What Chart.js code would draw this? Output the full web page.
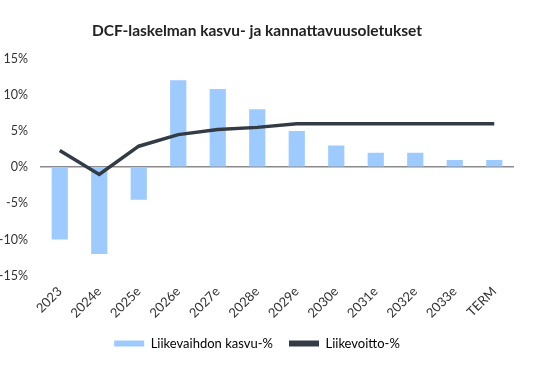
<!DOCTYPE html>
<html><head><meta charset="utf-8">
<script src="https://cdn.jsdelivr.net/npm/chart.js@4"></script>
<style>html,body{margin:0;padding:0;background:#fff}#wrap{width:546px;height:373px}</style>
</head><body><div id="wrap"><canvas id="c"></canvas></div>
<script>
const categories = ["2023","2024e","2025e","2026e","2027e","2028e","2029e","2030e","2031e","2032e","2033e","TERM"];
const revenueGrowth = [-10, -12, -4.5, 12, 10.8, 8, 5, 3, 2, 2, 1, 1];
const ebitMargin = [2.3, -1.0, 2.9, 4.5, 5.2, 5.5, 6, 6, 6, 6, 6, 6];
const yTicks = [-15, -10, -5, 0, 5, 10, 15];
const FONT = "Lato, 'Open Sans', sans-serif";
const BAR = "#9dcaff", LINE = "#333b45";
new Chart(document.getElementById('c'), {
  data: {
    labels: categories,
    datasets: [
      {type:'line', label:'Liikevoitto-%', data: ebitMargin, borderColor: LINE, backgroundColor: LINE, borderWidth: 3.5, pointRadius: 0, tension: 0, order: 0},
      {type:'bar', label:'Liikevaihdon kasvu-%', data: revenueGrowth, backgroundColor: BAR, barPercentage: 0.41, categoryPercentage: 1, order: 1}
    ]
  },
  options: {
    responsive: true, maintainAspectRatio: false, animation: false,
    layout: {padding: {left: 0, right: 32, top: 12, bottom: 13}},
    plugins: {
      title: {display: true, text: 'DCF-laskelman kasvu- ja kannattavuusoletukset', color: '#222', font: {family: FONT, size: 15.5, weight: 'bold'}, padding: {top: 10, bottom: 18}},
      legend: {position: 'bottom', reverse: true,
        labels: {color: '#333', font: {family: FONT, size: 13}, boxWidth: 30, boxHeight: 6, padding: 16,
          generateLabels: (chart) => chart.data.datasets.map((d, i) => ({text: d.label, fillStyle: d.type==='line'? LINE : BAR, strokeStyle: 'transparent', lineWidth: 0, datasetIndex: i}))}},
      tooltip: {enabled: false}
    },
    scales: {
      x: {grid: {display: false}, border: {display: false},
        ticks: {color: '#333', font: {family: FONT, size: 13}, maxRotation: 45, minRotation: 45, padding: 0}},
      y: {min: -15, max: 15, border: {display: false},
        afterBuildTicks: (a) => { a.ticks = yTicks.map(v => ({value: v})); },
        afterFit: (s) => { s.width = 40; },
        grid: {drawTicks: false, color: (ctx) => ctx.tick && ctx.tick.value === 0 ? '#8a8a8a' : 'transparent', lineWidth: 1.5},
        ticks: {color: '#333', font: {family: FONT, size: 12.5}, padding: 12, callback: (v) => v + '%'}}
    }
  }
});
</script></body></html>
